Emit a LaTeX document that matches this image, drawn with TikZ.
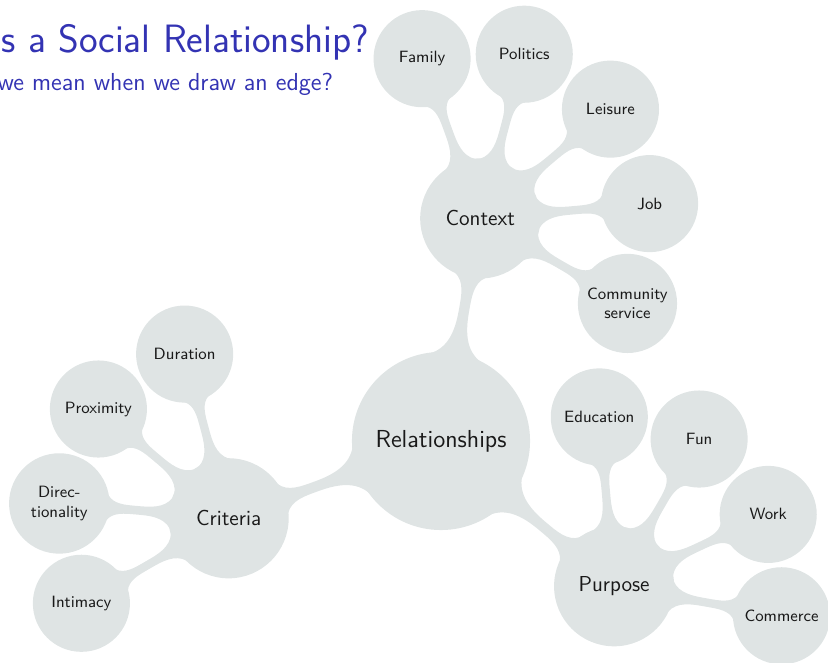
\documentclass[tikz,border=0pt]{standalone}
\usepackage{tikz}
\usetikzlibrary{mindmap,trees}
\definecolor{conceptgray}{RGB}{223,228,228}
\definecolor{structblue}{RGB}{51,51,179}

\begin{document}
\begin{tikzpicture}[mindmap,concept color=conceptgray,text=black!90,
  root concept/.append style={minimum size=3.52cm,text width=3.2cm,font=\sffamily\fontsize{14}{16}\selectfont},
  level 1/.append style={level distance=4.52cm},
  level 2/.append style={level distance=3.4cm},
  level 1 concept/.append style={minimum size=2.36cm,text width=2.1cm,font=\sffamily\fontsize{12.3}{14}\selectfont},
  level 2 concept/.append style={minimum size=1.9cm,text width=1.75cm,font=\sffamily\fontsize{9.3}{11}\selectfont},
  title/.style={text=structblue,text width={},font=\sffamily\fontsize{22.5}{27}\selectfont,inner sep=0pt},
  subtitle/.style={text=structblue,text width={},font=\sffamily\fontsize{14}{17}\selectfont,inner sep=0pt}]
\useasboundingbox (0,0) rectangle (16.56,13.26);
\node [title,anchor=base east] (ttl) at (7.38,12.2) {s a Social Relationship?};
\node [subtitle,anchor=base east] (sub) at (6.66,11.44) {we mean when we draw an edge?};
\node [concept,root concept] (rel) at (8.82,4.44) {Relationships}
  child [grow=80] {node [concept] (ctx) {Context}
    child [grow=110] {node [concept] (fam) {Family}}
    child [grow=75] {node [concept] (pol) {Politics}}
    child [grow=40] {node [concept] (lei) {Leisure}}
    child [grow=5] {node [concept] (job) {Job}}
    child [grow=-30] {node [concept] (com) {Community\\service}}
  }
  child [grow=200] {node [concept] (cri) {Criteria}
    child [grow=105] {node [concept] (dur) {Duration}}
    child [grow=140] {node [concept] (pro) {Proximity}}
    child [grow=175] {node [concept] (dir) {Direc-\\tionality}}
    child [grow=210] {node [concept] (int) {Intimacy}}
  }
  child [grow=320] {node [concept] (pur) {Purpose}
    child [grow=95] {node [concept] (edu) {Education}}
    child [grow=60] {node [concept] (fun) {Fun}}
    child [grow=25] {node [concept] (wor) {Work}}
    child [grow=-10] {node [concept] (cmr) {Commerce}}
  };
\end{tikzpicture}
\end{document}
